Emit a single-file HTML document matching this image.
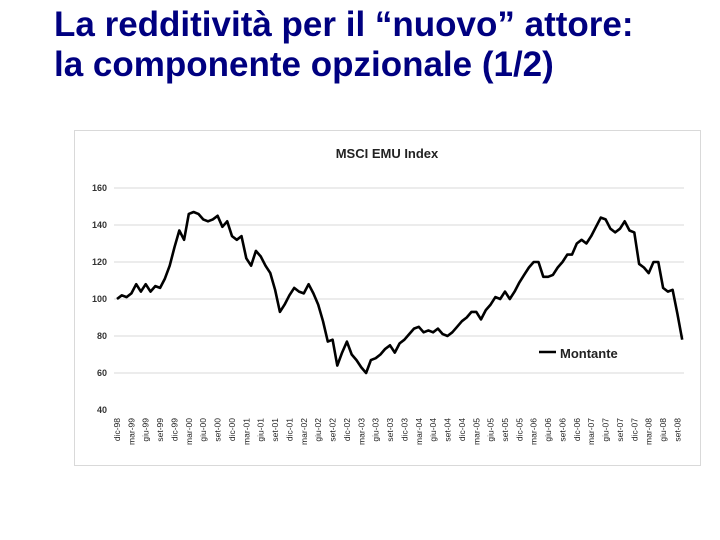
<!DOCTYPE html>
<html><head><meta charset="utf-8"><style>
body{margin:0;width:720px;height:540px;background:#fff;overflow:hidden;font-family:"Liberation Sans",sans-serif}
h1{position:absolute;left:54px;top:5px;margin:0;font-size:35px;line-height:40px;font-weight:bold;color:#000080;white-space:nowrap}
</style></head><body>
<h1>La redditività per il “nuovo” attore:<br>la componente opzionale (1/2)</h1>
<svg width="720" height="540" style="position:absolute;left:0;top:0">
<rect x="74.5" y="130.5" width="626" height="335" fill="#fff" stroke="#d9d9d9"/>
<text x="387" y="158" text-anchor="middle" font-size="13" font-weight="bold" fill="#222">MSCI EMU Index</text>
<g id="grid"></g><g id="yt"></g><g id="xt"></g><path id="ln" fill="none" stroke="#000" stroke-width="2.6" stroke-linejoin="round"/>
<line x1="539" y1="352" x2="556" y2="352" stroke="#000" stroke-width="2.6"/>
<text x="560" y="358" font-size="13" font-weight="bold" fill="#222">Montante</text>
</svg>
<script>
const values=[100,102,101,103,108,104,108,104,107,106,111,118,128,137,132,146,147,146,143,142,143,145,139,142,134,132,134,122,118,126,123,118,114,105,93,97,102,106,104,103,108,103,97,88,77,78,64,71,77,70,67,63,60,67,68,70,73,75,71,76,78,81,84,85,82,83,82,84,81,80,82,85,88,90,93,93,89,94,97,101,100,104,100,104,109,113,117,120,120,112,112,113,117,120,124,124,130,132,130,134,139,144,143,138,136,138,142,137,136,119,117,114,120,120,106,104,105,92,78];
const yTicks=[40,60,80,100,120,140,160];
const mon=['dic','mar','giu','set'];
const years=['98','99','00','01','02','03','04','05','06','07','08'];
const xs=m=>117+m*4.79, ys=v=>410-(v-40)*1.85;
const ns='http://www.w3.org/2000/svg';
function mk(t,a,p,txt){const e=document.createElementNS(ns,t);for(const k in a)e.setAttribute(k,a[k]);if(txt)e.textContent=txt;document.getElementById(p).appendChild(e);return e;}
yTicks.forEach(v=>{
 if(v>40){const g=mk('line',{x1:114,x2:684,y1:ys(v),y2:ys(v),stroke:'#d9d9d9'},'grid');
 
 }
 const t=mk('text',{x:107,y:ys(v)+3,'text-anchor':'end','font-size':9,'font-weight':'bold',fill:'#333'},'yt',String(v));
 
 
});
for(let q=0;q<40;q++){
 const lbl=mon[q%4]+'-'+years[Math.floor((q+3)/4)];
 const x=xs(q*3);
 const t=mk('text',{transform:`translate(${x+3},418) rotate(-90)`,'text-anchor':'end','font-size':8.5,fill:'#222'},'xt',lbl);
 
 
}
const ln=document.getElementById('ln');
ln.setAttribute('d',values.map((v,i)=>(i?'L':'M')+xs(i).toFixed(1)+','+ys(v).toFixed(1)).join(''));


</script>
</body></html>
